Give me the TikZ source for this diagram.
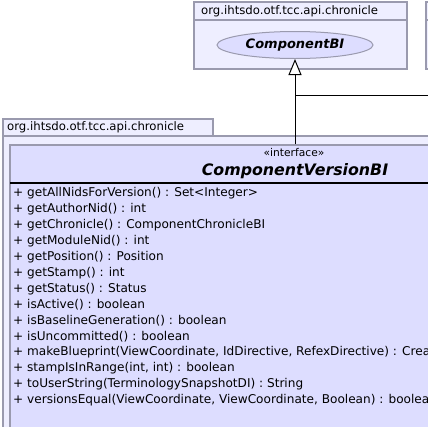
\documentclass[tikz,border=0pt]{standalone}
\usepackage{fontspec}
\setmainfont{DejaVu Sans}
\usetikzlibrary{arrows.meta,shapes.geometric,positioning}
\definecolor{pkgfill}{HTML}{EEEEFF}
\definecolor{clsfill}{HTML}{DDDDFF}
\definecolor{pkgline}{HTML}{9A9AAE}
\tikzset{
  pkgbox/.style={draw=pkgline,fill=pkgfill,line width=1.2pt},
  pkgname/.style={anchor=west,inner sep=0pt,font=\fontsize{11.7}{13}\selectfont},
  classbox/.style={draw=pkgline,fill=clsfill,line width=1.2pt,inner sep=0pt},
  method/.style={anchor=west,inner sep=0pt,font=\fontsize{12.1}{13}\selectfont},
}
\begin{document}
\begin{tikzpicture}[x=1pt,y=-1pt,>=Stealth]
	\useasboundingbox (0,0) rectangle (428,426);
	\clip (0,0) rectangle (428,426);
	% packages
	\filldraw[pkgbox] (194,2) rectangle (407,69);
	\draw[pkgline,line width=1.2pt] (194,20) -- (407,20);
	\node[pkgname] (pkgtop) at (201,11) {org.ihtsdo.otf.tcc.api.chronicle};
	\filldraw[pkgbox] (426,2) rectangle (450,69);
	\draw[pkgline,line width=1.2pt] (426,20) -- (450,20);
	\filldraw[pkgbox] (3,136) rectangle (450,450);
	\filldraw[pkgbox] (3,119) rectangle (213,136);
	\node[pkgname] (pkgbottom) at (7,127.5) {org.ihtsdo.otf.tcc.api.chronicle};
	% interfaces
	\node[ellipse,draw=pkgline,fill=clsfill,line width=1pt,minimum width=156,minimum height=27,
		font=\fontsize{13}{15}\selectfont\bfseries\itshape] (compbi) at (295,45) {ComponentBI};
	\node[classbox,minimum width=570,minimum height=300] (compvbi) at (295,295) {};
	\draw[line width=2pt] (10,183) -- (580,183);
	\node[font=\fontsize{10.7}{12}\selectfont] (stereo) at (294,153) {«interface»};
	\node[font=\fontsize{15.8}{18}\selectfont\bfseries\itshape] (cname) at (295,171) {ComponentVersionBI};
	\foreach \m [count=\i from 0] in {getAllNidsForVersion() : Set<Integer>,
		getAuthorNid() : int,
		getChronicle() : ComponentChronicleBI,
		getModuleNid() : int,
		getPosition() : Position,
		getStamp() : int,
		getStatus() : Status,
		isActive() : boolean,
		isBaselineGeneration() : boolean,
		isUncommitted() : boolean,
		{makeBlueprint(ViewCoordinate, IdDirective, RefexDirective) : CreateOrAmendBlueprint},
		{stampIsInRange(int, int) : boolean},
		toUserString(TerminologySnapshotDI) : String,
		{versionsEqual(ViewCoordinate, ViewCoordinate, Boolean) : boolean}}
		\node[method] (m\i) at (13,{193.5+15.9*\i}) {+ \m};
	% realization
	\coordinate (realize) at (430,95);
	\draw[-{Triangle[fill=white,length=16pt,width=13pt]},line width=1pt] (compvbi.north) -- (compbi.south);
	\draw[line width=1pt] (compvbi.north |- realize) -- (realize);
\end{tikzpicture}
\end{document}
